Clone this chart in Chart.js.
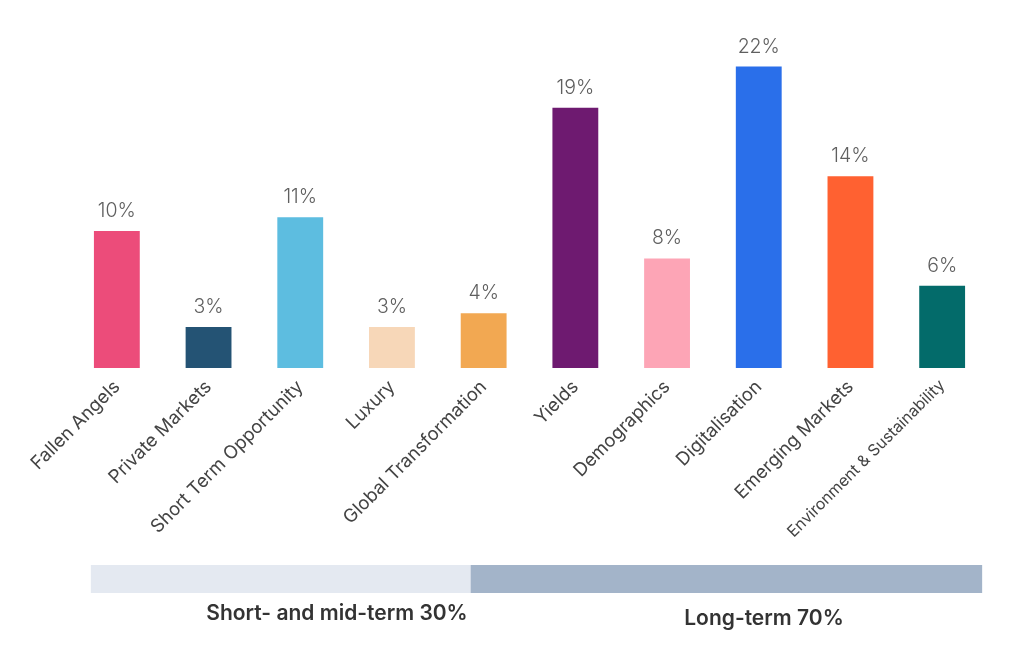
<!DOCTYPE html>
<html>
<head>
<meta charset="utf-8">
<script src="https://cdn.jsdelivr.net/npm/chart.js@4"></script>
<style>
html,body{margin:0;padding:0;background:#fff;}
#wrap{width:1024px;height:659px;position:relative;}
</style>
</head>
<body>
<div id="wrap"><canvas id="c" width="1024" height="659"></canvas></div>
<script>
const categories = ["Fallen Angels","Private Markets","Short Term Opportunity","Luxury","Global Transformation","Yields","Demographics","Digitalisation","Emerging Markets","Environment & Sustainability"];
const values = [10,3,11,3,4,19,8,22,14,6];
const barColors = ["#EC4C7A","#245374","#5DBDE0","#F7D7B8","#F2A852","#6E1A70","#FDA5B6","#2A6FEA","#FF6131","#036B6A"];
const groupLabels = ["Short- and mid-term 30%","Long-term 70%"];
const groupColors = ["#E4E9F1","#A3B4C9"];

const valueLabels = {
  id:'valueLabels',
  afterDatasetsDraw(chart){
    const ctx = chart.ctx;
    const meta = chart.getDatasetMeta(0);
    ctx.save();
    ctx.font = '300 19.5px Inter';
    ctx.fillStyle = '#5f5f5f';
    ctx.textAlign = 'center';
    ctx.textBaseline = 'alphabetic';
    meta.data.forEach((bar,i)=>{
      ctx.fillText(values[i] + '%', bar.x, bar.y - 14);
    });
    ctx.restore();
  }
};

const bands = {
  id:'bands',
  afterDraw(chart){
    const ctx = chart.ctx;
    const x = chart.scales.x;
    const left = x.getPixelForValue(0) - 26;
    const split = x.getPixelForValue(4) - 13;
    const right = x.getPixelForValue(9) + 40;
    const top = 565, h = 28;
    ctx.save();
    ctx.fillStyle = groupColors[0];
    ctx.fillRect(left, top, split - left, h);
    ctx.fillStyle = groupColors[1];
    ctx.fillRect(split, top, right - split, h);
    ctx.font = '600 21px Inter';
    ctx.fillStyle = '#333333';
    ctx.textAlign = 'center';
    ctx.textBaseline = 'middle';
    ctx.fillText(groupLabels[0], 337, 614);
    ctx.fillText(groupLabels[1], 764, 619);
    ctx.restore();
  }
};

new Chart(document.getElementById('c'), {
  type:'bar',
  data:{
    labels:categories,
    datasets:[{data:values, backgroundColor:barColors, barPercentage:0.5, categoryPercentage:1.0}]
  },
  options:{
    responsive:false,
    animation:false,
    layout:{padding:{left:71,right:36,top:0,bottom:0}},
    plugins:{legend:{display:false},tooltip:{enabled:false}},
    scales:{
      y:{display:false,min:0,max:26.86},
      x:{
        grid:{display:false,drawTicks:false},
        border:{display:false},
        afterFit(scale){ scale.height = 291; },
        ticks:{
          minRotation:45,maxRotation:45,autoSkip:false,padding:8,
          color:'#444444',
          font(ctx){ return {family:'Inter', size: ctx.index===9 ? 16 : 18.5}; }
        }
      }
    }
  },
  plugins:[valueLabels,bands]
});
</script>
</body>
</html>
